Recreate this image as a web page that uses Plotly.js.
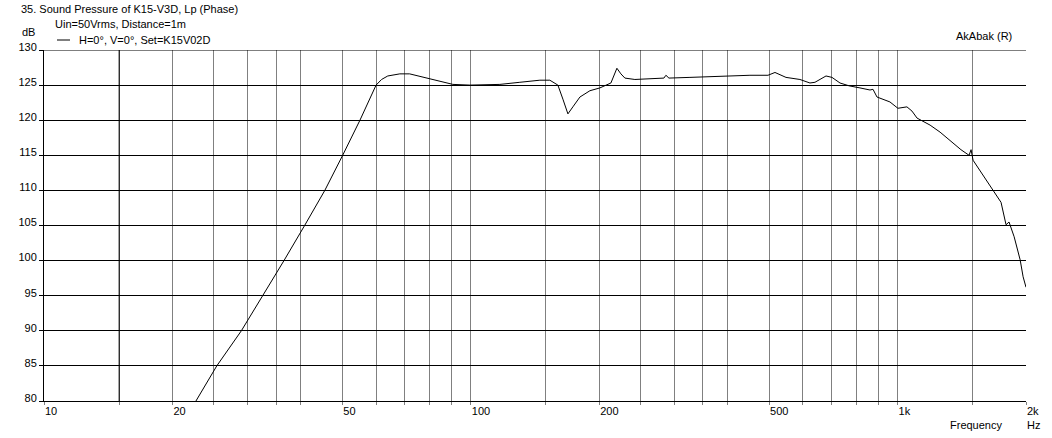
<!DOCTYPE html>
<html><head><meta charset="utf-8">
<script src="https://cdn.plot.ly/plotly-3.0.1.min.js"></script>
<style>html,body{margin:0;padding:0;background:#fff;}#chart{width:1052px;height:438px;}</style>
</head><body><div id="chart"></div>
<script>
// Frequency response (Hz) and sound pressure level (dB)
const freq = [22.7, 25.4, 29.0, 32.6, 36.5, 40.8, 45.5, 50.1, 55.0, 60.0, 61.8, 63.9, 68.2, 71.9, 78.1, 84.7, 90.8, 99.5,
  117.0, 130.3, 145.2, 153.2, 160.0, 164.4, 168.9, 173.5, 180.2, 190.2, 200.7, 213.0, 216.5, 220.0, 224.8, 229.7,
  242.4, 262.9, 283.5, 286.6, 291.3, 326.3, 383.5, 451.0, 497.1, 516.2, 547.8, 590.6, 623.4, 640.5, 679.8, 702.1,
  733.1, 769.6, 816.6, 861.9, 876.0, 895.2, 959.9, 1002, 1052, 1081, 1111, 1192, 1258, 1328, 1408, 1471, 1487, 1503,
  1587, 1665, 1748, 1796, 1825, 1876, 1938, 1969, 2000];
const spl = [80.0, 85.0, 90.0, 95.0, 100.0, 105.0, 110.0, 115.0, 120.0, 125.0, 125.8, 126.3, 126.6, 126.6, 126.1, 125.6, 125.1, 125.0,
  125.1, 125.4, 125.7, 125.7, 125.0, 123.0, 120.9, 121.9, 123.3, 124.2, 124.6, 125.3, 126.3, 127.4, 126.6, 126.0,
  125.8, 125.9, 126.0, 126.4, 126.0, 126.1, 126.3, 126.4, 126.4, 126.8, 126.1, 125.8, 125.3, 125.4, 126.3, 126.1,
  125.3, 124.9, 124.6, 124.3, 124.4, 123.3, 122.6, 121.7, 121.9, 121.3, 120.3, 119.3, 118.3, 117.1, 115.8, 115.0, 115.8, 114.3,
  112.2, 110.3, 108.3, 105.1, 105.5, 103.4, 100.1, 97.7, 96.2];

const gridFreqs = [10,15,20,25,30,35,40,50,60,70,80,90,100,150,200,250,300,350,400,500,600,700,800,900,1000,1500,2000];
const labeledFreqs = [10,20,50,100,200,500,1000,2000];
const labelTexts = ['10','20','50','100','200','500','1k','2k'];
const yTicks = [80,85,90,95,100,105,110,115,120,125,130];
const seriesName = 'H=0°, V=0°, Set=K15V02D';

const L = 44, R = 1026, T = 50, B = 401;
const px = v => (v - L) / (R - L);
const py = v => (B - v) / (B - T);

const tickText = gridFreqs.map(f => {
  const i = labeledFreqs.indexOf(f);
  return i >= 0 ? labelTexts[i] : '';
});

const FONT = 'Liberation Sans, Arial, sans-serif';

const trace = {
  x: freq, y: spl, type: 'scatter', mode: 'lines', name: seriesName,
  line: {color: '#000', width: 1}, showlegend: false, hoverinfo: 'skip'
};

function ann(text, x, y, xanchor) {
  return {text: text, xref: 'paper', yref: 'paper', x: px(x), y: py(y), xanchor: xanchor || 'left',
    yanchor: 'middle', showarrow: false, font: {family: FONT, size: 11, color: '#000'}, borderpad: 0};
}

const layout = {
  width: 1052, height: 438,
  margin: {l: L, r: 1052 - R, t: T, b: 438 - B, pad: 0},
  paper_bgcolor: '#fff', plot_bgcolor: '#fff',
  font: {family: FONT, size: 11, color: '#000'},
  title: {text: '35. Sound Pressure of K15-V3D, Lp (Phase)', x: 21 / 1052, xref: 'container', xanchor: 'left',
    y: 1 - 9 / 438, yref: 'container', yanchor: 'middle', font: {family: FONT, size: 11, color: '#000'}},
  showlegend: false,
  xaxis: {
    type: 'log', range: [1, Math.log10(2000)], tickmode: 'array', tickvals: gridFreqs, ticktext: tickText,
    showgrid: true, gridcolor: '#808080', gridwidth: 1, ticks: 'outside', ticklen: 3, tickcolor: '#808080',
    showline: true, linecolor: '#000', linewidth: 1, zeroline: false, ticklabelposition: 'outside right',
    tickfont: {family: FONT, size: 11, color: '#000'}, fixedrange: true
  },
  yaxis: {
    range: [80, 130], tickmode: 'array', tickvals: yTicks, showgrid: true, gridcolor: '#000', gridwidth: 1,
    ticks: 'outside', ticklen: 4, tickcolor: '#000', showline: true, linecolor: '#000', linewidth: 1,
    zeroline: false, tickfont: {family: FONT, size: 11, color: '#000'}, ticklabelshift: -3, fixedrange: true
  },
  shapes: [
    {type: 'line', xref: 'x', yref: 'paper', x0: 15, x1: 15, y0: 0, y1: 1, line: {color: '#000', width: 1}},
    {type: 'line', xref: 'paper', yref: 'y', x0: 0, x1: 1, y0: 130, y1: 130, line: {color: '#000', width: 1}},
    {type: 'line', xref: 'paper', yref: 'paper', x0: px(57), x1: px(70), y0: py(40), y1: py(40), line: {color: '#000', width: 1}}
  ],
  annotations: [
    ann('Uin=50Vrms, Distance=1m', 54, 24),
    ann(seriesName, 78, 40),
    ann('dB', 36, 32, 'right'),
    ann('AkAbak (R)', 955, 36),
    ann('Frequency', 949, 425),
    ann('Hz', 1026, 425)
  ]
};

Plotly.newPlot('chart', [trace], layout, {displayModeBar: false, staticPlot: true});
</script>
</body></html>
